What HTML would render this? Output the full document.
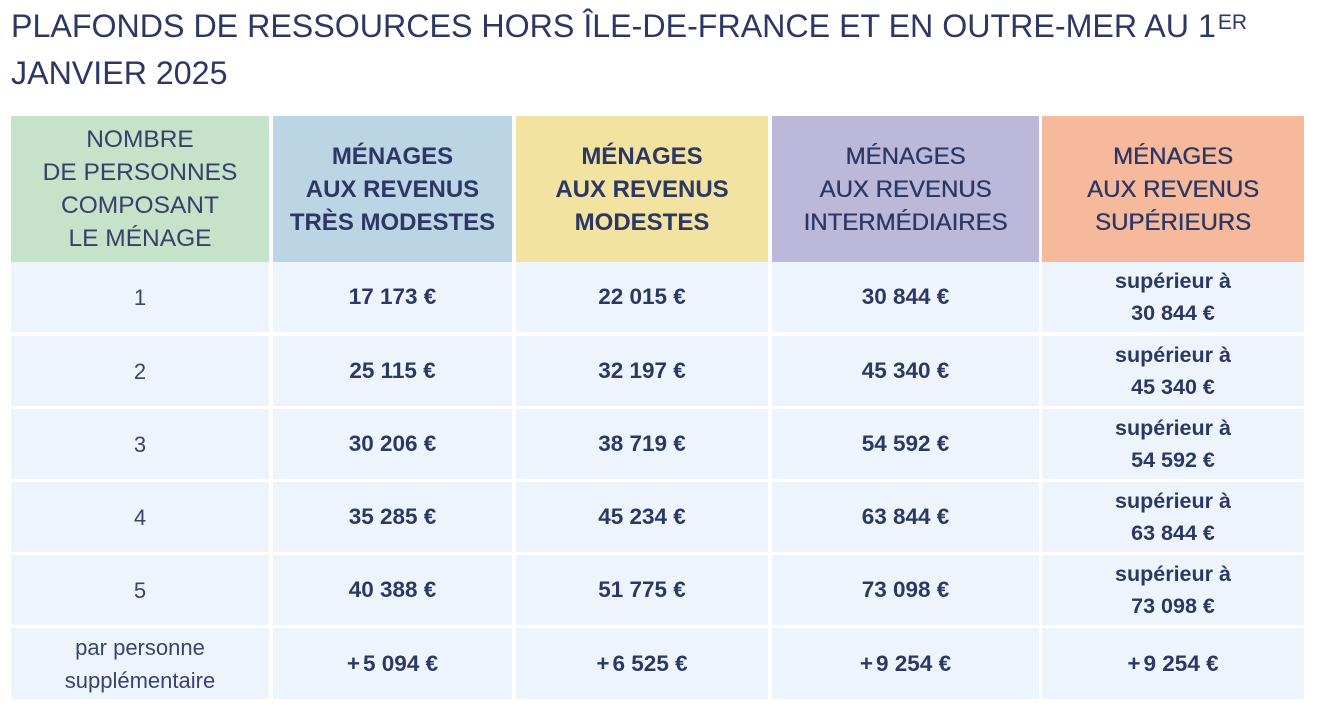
<!DOCTYPE html>
<html>
<head>
<meta charset="utf-8">
<style>
  html,body{margin:0;padding:0;background:#fff;}
  body{width:1327px;height:721px;position:relative;overflow:hidden;
       font-family:"Liberation Sans","DejaVu Sans",sans-serif;color:#2c3764;}
  .title{position:absolute;left:11px;top:3px;font-size:32.2px;line-height:47px;
         font-weight:normal;color:#2c3764;white-space:nowrap;}
  .title sup{font-size:21px;position:relative;top:9px;vertical-align:top;line-height:1;margin-left:2px;}
  .c{position:absolute;display:flex;align-items:center;justify-content:center;text-align:center;box-sizing:border-box;}
  .h{font-size:24px;line-height:33px;font-weight:bold;color:#2c3764;}
  .hm{font-weight:normal;text-shadow:0.4px 0 0 #2c3764;}
  .h1{font-size:24.5px;line-height:33px;font-weight:normal;color:#37406b;}
  .b{background:#eef4fb;font-size:22.5px;line-height:32px;font-weight:bold;color:#2c3764;}
  .l{background:#eef4fb;font-size:22px;line-height:33px;font-weight:normal;color:#3a436d;}
  .s{font-weight:bold;font-size:21.5px;line-height:32px;}
</style>
</head>
<body>
<div class="title">PLAFONDS DE RESSOURCES HORS ÎLE-DE-FRANCE ET EN OUTRE-MER AU 1<sup>ER</sup><br>JANVIER 2025</div>

<!-- header row -->
<div class="c h1" style="left:11px;top:116px;width:258px;height:146px;background:#c6e2c8;">NOMBRE<br>DE PERSONNES<br>COMPOSANT<br>LE MÉNAGE</div>
<div class="c h" style="left:273px;top:116px;width:239px;height:146px;background:#bcd5e5;">MÉNAGES<br>AUX REVENUS<br>TRÈS MODESTES</div>
<div class="c h" style="left:516px;top:116px;width:252px;height:146px;background:#f2e3a0;">MÉNAGES<br>AUX REVENUS<br>MODESTES</div>
<div class="c h hm" style="left:772px;top:116px;width:267px;height:146px;background:#bcb8da;">MÉNAGES<br>AUX REVENUS<br>INTERMÉDIAIRES</div>
<div class="c h hm" style="left:1042px;top:116px;width:262px;height:146px;background:#f6b99c;">MÉNAGES<br>AUX REVENUS<br>SUPÉRIEURS</div>

<!-- row 1 -->
<div class="c l" style="left:11px;top:262px;width:258px;height:70px;">1</div>
<div class="c b" style="left:273px;top:262px;width:239px;height:70px;">17 173 €</div>
<div class="c b" style="left:516px;top:262px;width:252px;height:70px;">22 015 €</div>
<div class="c b" style="left:772px;top:262px;width:267px;height:70px;">30 844 €</div>
<div class="c b s" style="left:1042px;top:262px;width:262px;height:70px;">supérieur à<br>30 844 €</div>

<!-- row 2 -->
<div class="c l" style="left:11px;top:336px;width:258px;height:70px;">2</div>
<div class="c b" style="left:273px;top:336px;width:239px;height:70px;">25 115 €</div>
<div class="c b" style="left:516px;top:336px;width:252px;height:70px;">32 197 €</div>
<div class="c b" style="left:772px;top:336px;width:267px;height:70px;">45 340 €</div>
<div class="c b s" style="left:1042px;top:336px;width:262px;height:70px;">supérieur à<br>45 340 €</div>

<!-- row 3 -->
<div class="c l" style="left:11px;top:409px;width:258px;height:70px;">3</div>
<div class="c b" style="left:273px;top:409px;width:239px;height:70px;">30 206 €</div>
<div class="c b" style="left:516px;top:409px;width:252px;height:70px;">38 719 €</div>
<div class="c b" style="left:772px;top:409px;width:267px;height:70px;">54 592 €</div>
<div class="c b s" style="left:1042px;top:409px;width:262px;height:70px;">supérieur à<br>54 592 €</div>

<!-- row 4 -->
<div class="c l" style="left:11px;top:482px;width:258px;height:70px;">4</div>
<div class="c b" style="left:273px;top:482px;width:239px;height:70px;">35 285 €</div>
<div class="c b" style="left:516px;top:482px;width:252px;height:70px;">45 234 €</div>
<div class="c b" style="left:772px;top:482px;width:267px;height:70px;">63 844 €</div>
<div class="c b s" style="left:1042px;top:482px;width:262px;height:70px;">supérieur à<br>63 844 €</div>

<!-- row 5 -->
<div class="c l" style="left:11px;top:555px;width:258px;height:70px;">5</div>
<div class="c b" style="left:273px;top:555px;width:239px;height:70px;">40 388 €</div>
<div class="c b" style="left:516px;top:555px;width:252px;height:70px;">51 775 €</div>
<div class="c b" style="left:772px;top:555px;width:267px;height:70px;">73 098 €</div>
<div class="c b s" style="left:1042px;top:555px;width:262px;height:70px;">supérieur à<br>73 098 €</div>

<!-- row 6 -->
<div class="c l" style="left:11px;top:628px;width:258px;height:71px;">par personne<br>supplémentaire</div>
<div class="c b" style="left:273px;top:628px;width:239px;height:71px;">+<span style="margin-left:3px">5 094 €</span></div>
<div class="c b" style="left:516px;top:628px;width:252px;height:71px;">+<span style="margin-left:3px">6 525 €</span></div>
<div class="c b" style="left:772px;top:628px;width:267px;height:71px;">+<span style="margin-left:3px">9 254 €</span></div>
<div class="c b" style="left:1042px;top:628px;width:262px;height:71px;">+<span style="margin-left:3px">9 254 €</span></div>
</body>
</html>
